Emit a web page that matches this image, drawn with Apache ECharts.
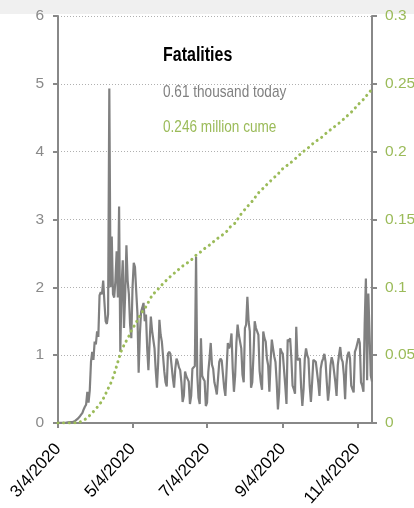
<!DOCTYPE html>
<html>
<head>
<meta charset="utf-8">
<script src="https://cdn.jsdelivr.net/npm/echarts@6/dist/echarts.min.js"></script>
<style>
html,body{margin:0;padding:0;background:#fff;overflow:hidden;}
#chart{width:414px;height:508px;}
</style>
</head>
<body>
<div id="chart"></div>
<script>
// Daily categories 3/4/2020 .. 11/16/2020
const categories = [
'3/4/2020','3/5/2020','3/6/2020','3/7/2020','3/8/2020','3/9/2020','3/10/2020','3/11/2020','3/12/2020','3/13/2020','3/14/2020','3/15/2020','3/16/2020','3/17/2020','3/18/2020','3/19/2020','3/20/2020','3/21/2020','3/22/2020','3/23/2020','3/24/2020','3/25/2020','3/26/2020','3/27/2020','3/28/2020','3/29/2020','3/30/2020','3/31/2020',
'4/1/2020','4/2/2020','4/3/2020','4/4/2020','4/5/2020','4/6/2020','4/7/2020','4/8/2020','4/9/2020','4/10/2020','4/11/2020','4/12/2020','4/13/2020','4/14/2020','4/15/2020','4/16/2020','4/17/2020','4/18/2020','4/19/2020','4/20/2020','4/21/2020','4/22/2020','4/23/2020','4/24/2020','4/25/2020','4/26/2020','4/27/2020','4/28/2020','4/29/2020','4/30/2020',
'5/1/2020','5/2/2020','5/3/2020','5/4/2020','5/5/2020','5/6/2020','5/7/2020','5/8/2020','5/9/2020','5/10/2020','5/11/2020','5/12/2020','5/13/2020','5/14/2020','5/15/2020','5/16/2020','5/17/2020','5/18/2020','5/19/2020','5/20/2020','5/21/2020','5/22/2020','5/23/2020','5/24/2020','5/25/2020','5/26/2020','5/27/2020','5/28/2020','5/29/2020','5/30/2020','5/31/2020',
'6/1/2020','6/2/2020','6/3/2020','6/4/2020','6/5/2020','6/6/2020','6/7/2020','6/8/2020','6/9/2020','6/10/2020','6/11/2020','6/12/2020','6/13/2020','6/14/2020','6/15/2020','6/16/2020','6/17/2020','6/18/2020','6/19/2020','6/20/2020','6/21/2020','6/22/2020','6/23/2020','6/24/2020','6/25/2020','6/26/2020','6/27/2020','6/28/2020','6/29/2020','6/30/2020',
'7/1/2020','7/2/2020','7/3/2020','7/4/2020','7/5/2020','7/6/2020','7/7/2020','7/8/2020','7/9/2020','7/10/2020','7/11/2020','7/12/2020','7/13/2020','7/14/2020','7/15/2020','7/16/2020','7/17/2020','7/18/2020','7/19/2020','7/20/2020','7/21/2020','7/22/2020','7/23/2020','7/24/2020','7/25/2020','7/26/2020','7/27/2020','7/28/2020','7/29/2020','7/30/2020','7/31/2020',
'8/1/2020','8/2/2020','8/3/2020','8/4/2020','8/5/2020','8/6/2020','8/7/2020','8/8/2020','8/9/2020','8/10/2020','8/11/2020','8/12/2020','8/13/2020','8/14/2020','8/15/2020','8/16/2020','8/17/2020','8/18/2020','8/19/2020','8/20/2020','8/21/2020','8/22/2020','8/23/2020','8/24/2020','8/25/2020','8/26/2020','8/27/2020','8/28/2020','8/29/2020','8/30/2020','8/31/2020',
'9/1/2020','9/2/2020','9/3/2020','9/4/2020','9/5/2020','9/6/2020','9/7/2020','9/8/2020','9/9/2020','9/10/2020','9/11/2020','9/12/2020','9/13/2020','9/14/2020','9/15/2020','9/16/2020','9/17/2020','9/18/2020','9/19/2020','9/20/2020','9/21/2020','9/22/2020','9/23/2020','9/24/2020','9/25/2020','9/26/2020','9/27/2020','9/28/2020','9/29/2020','9/30/2020',
'10/1/2020','10/2/2020','10/3/2020','10/4/2020','10/5/2020','10/6/2020','10/7/2020','10/8/2020','10/9/2020','10/10/2020','10/11/2020','10/12/2020','10/13/2020','10/14/2020','10/15/2020','10/16/2020','10/17/2020','10/18/2020','10/19/2020','10/20/2020','10/21/2020','10/22/2020','10/23/2020','10/24/2020','10/25/2020','10/26/2020','10/27/2020','10/28/2020','10/29/2020','10/30/2020','10/31/2020',
'11/1/2020','11/2/2020','11/3/2020','11/4/2020','11/5/2020','11/6/2020','11/7/2020','11/8/2020','11/9/2020','11/10/2020','11/11/2020','11/12/2020','11/13/2020','11/14/2020','11/15/2020','11/16/2020'
];

// Daily fatalities, thousands (left axis)
const dailyDeaths = [
0.002,0.003,0.003,0.004,0.004,0.005,0.004,0.008,0.009,0.01,
0.012,0.01,0.015,0.02,0.03,0.05,0.06,0.08,0.1,0.12,
0.15,0.2,0.24,0.27,0.46,0.3,0.48,0.9,1.05,0.93,
1.2,1.16,1.35,1.27,1.88,1.93,1.9,2.1,1.78,1.5,
1.46,1.6,4.93,2.0,2.75,1.9,1.85,2.1,2.53,1.85,
3.19,1.05,2.0,2.4,1.4,1.9,2.62,2.1,1.9,1.45,
1.25,2.0,2.36,2.3,1.95,1.62,0.74,1.3,1.64,1.7,
1.77,1.5,1.6,1.1,0.78,1.2,1.57,1.36,1.35,1.1,
0.77,0.52,0.9,1.52,1.3,1.2,1.22,0.76,0.6,0.54,
1.02,1.05,1.02,1.0,0.66,0.52,0.8,0.95,0.9,0.82,
0.78,0.6,0.31,0.4,0.76,0.69,0.65,0.61,0.28,0.4,
0.8,0.78,0.84,2.45,0.71,0.37,0.28,1.25,0.7,0.65,
0.62,0.25,0.3,0.75,0.95,1.18,0.86,0.8,0.6,0.52,
0.42,0.4,0.9,0.95,0.92,0.9,0.52,0.4,0.38,1.18,
1.1,1.15,1.32,0.8,0.46,0.7,1.18,1.45,1.3,1.2,
1.1,0.71,0.6,1.4,1.45,1.86,1.5,1.35,0.52,0.6,
1.0,1.5,1.4,1.35,1.3,0.77,0.6,0.49,1.35,1.25,
1.2,0.95,0.85,0.46,0.9,1.23,1.1,0.98,0.9,0.6,
0.2,0.45,1.1,1.05,1.02,1.0,0.55,0.28,1.23,1.2,
1.25,0.95,0.55,0.5,0.43,1.42,0.93,0.95,0.95,0.52,
0.25,0.5,0.95,1.1,1.0,0.95,0.55,0.31,0.6,0.93,
0.93,0.9,0.88,0.6,0.4,0.8,0.9,0.95,1.02,0.9,
0.6,0.33,0.5,0.85,0.97,0.9,0.9,0.6,0.4,0.85,
1.0,1.12,0.95,0.9,0.7,0.35,0.85,1.0,1.05,0.95,
0.55,0.5,0.45,1.05,1.1,1.1,1.25,1.18,0.6,0.55,
0.46,1.45,2.13,0.63,1.91,1.92,0.7,0.61
];

// Cumulative fatalities, millions (right axis), read at these dates
const cumeDates = ['3/4/2020','3/18/2020','3/22/2020','3/25/2020','3/28/2020','4/1/2020','4/5/2020','4/8/2020','4/11/2020','4/13/2020','4/16/2020','4/18/2020','4/20/2020','4/22/2020','4/25/2020','4/28/2020','5/1/2020','5/3/2020','5/6/2020','5/9/2020','5/12/2020','5/15/2020','5/20/2020','5/24/2020','5/28/2020','6/1/2020','6/5/2020','6/9/2020','6/13/2020','6/17/2020','6/21/2020','6/25/2020','6/29/2020','7/3/2020','7/7/2020','7/11/2020','7/16/2020','7/20/2020','7/23/2020','7/27/2020','7/31/2020','8/5/2020','8/10/2020','8/15/2020','8/20/2020','8/25/2020','8/31/2020','9/4/2020','9/10/2020','9/15/2020','9/20/2020','9/25/2020','9/30/2020','10/5/2020','10/10/2020','10/15/2020','10/20/2020','10/25/2020','10/31/2020','11/5/2020','11/10/2020','11/13/2020','11/16/2020'];
const cumeValues = [0,0.0001,0.0008,0.002,0.004,0.0075,0.0115,0.015,0.0195,0.0235,0.029,0.0335,0.039,0.045,0.0535,0.059,0.064,0.068,0.0725,0.0775,0.082,0.0858,0.0939,0.0978,0.1018,0.1055,0.1088,0.1118,0.115,0.1175,0.1202,0.1237,0.1263,0.1293,0.1318,0.135,0.1382,0.1412,0.1445,0.1475,0.153,0.1585,0.1635,0.1695,0.174,0.1785,0.1835,0.1875,0.1915,0.1955,0.1995,0.203,0.207,0.21,0.214,0.2175,0.221,0.225,0.23,0.235,0.2395,0.243,0.246];

const tickLabels = ['3/4/2020','5/4/2020','7/4/2020','9/4/2020','11/4/2020'];
const titleText = 'Fatalities';
const todayText = '0.61 thousand today';
const cumeText = '0.246 million cume';

// Pick a narrow font if one is installed, otherwise squeeze Liberation Sans.
function fontAvailable(name) {
  const c = document.createElement('canvas').getContext('2d');
  const s = 'mmmmmmmmmmlli0123456789';
  c.font = '40px monospace';
  const a = c.measureText(s).width;
  c.font = '40px "' + name + '", monospace';
  const b = c.measureText(s).width;
  return Math.abs(a - b) > 0.5;
}
const hasNarrow = fontAvailable('Liberation Sans Narrow');
const REG = '"Liberation Sans", Arial, sans-serif';
const AXFONT = hasNarrow ? '"Liberation Sans Narrow"' : REG;
const TXFONT = hasNarrow ? '"Liberation Sans Narrow"' : REG;
const SQX = hasNarrow ? 1 : 0.8;
const YFS = hasNarrow ? 18 : 15.5;
const XFS = 17;

const GRAY = '#808080';
const GREEN = '#9bbb59';

const showTick = (i, v) => tickLabels.indexOf(categories[i]) >= 0;

const chart = echarts.init(document.getElementById('chart'), null, {renderer: 'canvas'});
chart.setOption({
  animation: false,
  backgroundColor: '#fff',
  grid: {left: 58, right: 42, top: 16, bottom: 85, containLabel: false, outerBoundsMode: 'none'},
  graphic: [
    {type: 'rect', x: 0, y: 0, shape: {x: 0, y: 0, width: 420, height: 14}, style: {fill: '#f0f0f0'}, z: -10},
    {type: 'text', x: 163, y: 45, scaleX: SQX, style: {text: titleText, font: 'bold 20px ' + TXFONT, fill: '#000', textVerticalAlign: 'top'}, z: 100},
    {type: 'text', x: 163, y: 84, scaleX: SQX, style: {text: todayText, font: '17px ' + TXFONT, fill: GRAY, textVerticalAlign: 'top'}, z: 100},
    {type: 'text', x: 163, y: 119, scaleX: SQX, style: {text: cumeText, font: '17px ' + TXFONT, fill: GREEN, textVerticalAlign: 'top'}, z: 100}
  ],
  xAxis: {
    type: 'category',
    data: categories,
    boundaryGap: false,
    axisLine: {lineStyle: {color: '#888', width: 2}},
    axisTick: {show: true, interval: showTick, length: 5, lineStyle: {color: '#888', width: 2}},
    axisLabel: {interval: showTick, rotate: 48, margin: 23, color: '#000', fontSize: XFS, fontFamily: REG, hideOverlap: false},
    splitLine: {show: false}
  },
  yAxis: [
    {
      type: 'value', position: 'left', min: 0, max: 6, interval: 1,
      axisLine: {show: true, lineStyle: {color: '#888', width: 2}},
      axisTick: {show: true, length: 5, lineStyle: {color: '#888', width: 2}},
      axisLabel: {color: '#8a8a8a', fontSize: YFS, fontFamily: AXFONT, margin: 14},
      splitLine: {show: true, lineStyle: {color: '#b0b0b0', width: 1, type: [1, 2]}}
    },
    {
      type: 'value', position: 'right', min: 0, max: 0.3, interval: 0.05,
      axisLine: {show: true, lineStyle: {color: '#888', width: 2}},
      axisTick: {show: true, length: 5, lineStyle: {color: '#888', width: 2}},
      axisLabel: {color: GREEN, fontSize: YFS, fontFamily: AXFONT, margin: 13},
      splitLine: {show: false}
    }
  ],
  series: [
    {
      name: 'Daily', type: 'line', yAxisIndex: 0, data: dailyDeaths,
      showSymbol: false, symbol: 'none',
      lineStyle: {color: GRAY, width: 2.2}, z: 2
    },
    {
      name: 'Cume', type: 'line', yAxisIndex: 1,
      data: cumeDates.map((d, i) => [d, cumeValues[i]]),
      showSymbol: false, symbol: 'none', smooth: 0.3,
      lineStyle: {color: GREEN, width: 3, type: [0.1, 5.5], cap: 'round'}, z: 3
    }
  ]
});
</script>
</body>
</html>
